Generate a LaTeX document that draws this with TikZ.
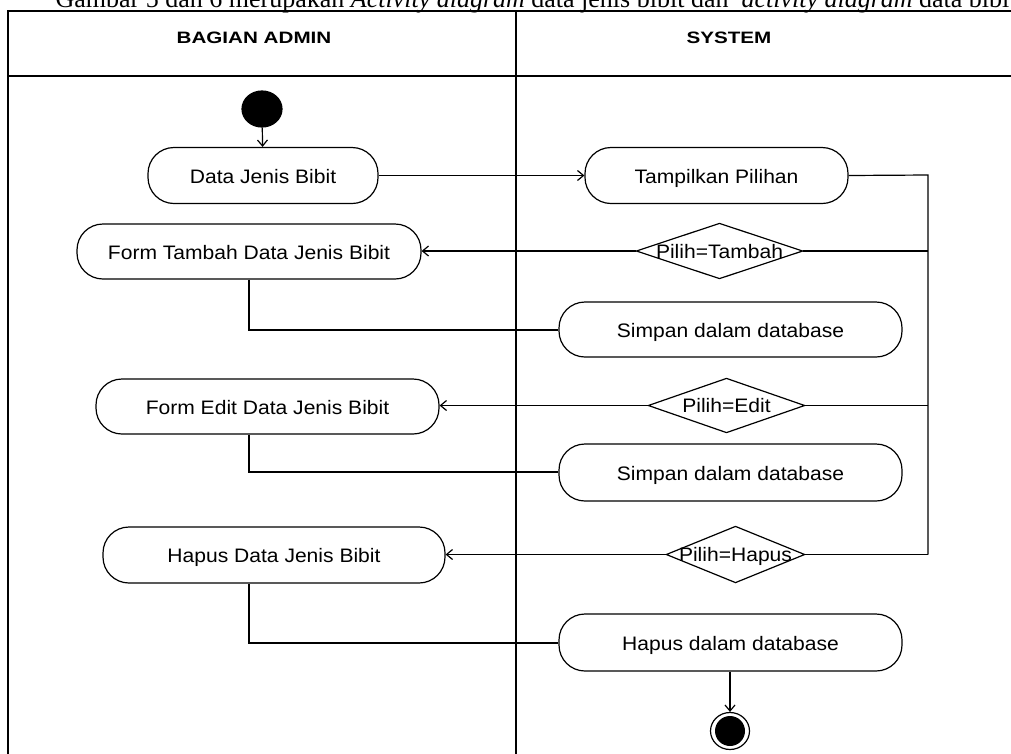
\documentclass[tikz,border=0pt]{standalone}
\usepackage{fontspec}
\setmainfont{Liberation Serif}
\newfontfamily\lab[FakeStretch=1.08]{Liberation Sans}
\newfontfamily\hdr[FakeStretch=1.25]{Liberation Sans}
\usetikzlibrary{arrows.meta,shapes.geometric}
\begin{document}
\begin{tikzpicture}[x=1pt,y=-1pt,line width=1.2pt,
  act/.style={draw, rectangle, rounded corners=26pt, minimum height=56pt, inner sep=0pt,
    text height=19pt, text depth=4pt, font=\lab\fontsize{19.5}{22}\selectfont},
  dbox/.style={rectangle, inner sep=0pt},
  dtext/.style={font=\lab\fontsize{19.5}{22}\selectfont, inner sep=0pt, text height=18pt, text depth=4pt},
  hd/.style={font=\hdr\bfseries\fontsize{16.5}{18}\selectfont, inner sep=0pt},
  arr/.style={-{Straight Barb[length=6pt,width=10pt]}},
  captext/.style={font=\fontsize{26}{28}\selectfont, inner sep=0pt, anchor=base west}]
\useasboundingbox (0,0) rectangle (1011,753);
\clip (0,0) rectangle (1011,753);
% caption
\node[captext] (caption) at (55,7) {Gambar 5 dan 6 merupakan \textit{Activity diagram} data jenis bibit dan\ \ \textit{activity diagram} data bibit};
% swimlane table
\coordinate (tl) at (8,11);
\coordinate (tr) at (1030,11);
\coordinate (hl) at (8,76);
\coordinate (hr) at (1030,76);
\coordinate (bl) at (8,770);
\coordinate (mt) at (516,11);
\coordinate (mb) at (516,770);
\draw (tr) -- (tl) -- (bl);
\draw (hl) -- (hr);
\draw (mt) -- (mb);
\node[hd] (h1) at (254,38) {BAGIAN ADMIN};
\node[hd] (h2) at (729,38) {SYSTEM};
% start
\node[draw, fill=black, ellipse, minimum width=40pt, minimum height=36pt, inner sep=0pt] (start) at (262,109) {};
% activities
\node[act, minimum width=230pt] (a1) at (263,175.5) {Data Jenis Bibit};
\node[act, minimum width=263pt] (a2) at (716.5,175.5) {Tampilkan Pilihan};
\node[act, minimum width=344pt, minimum height=55pt] (a3) at (249,251.5) {Form Tambah Data Jenis Bibit};
\node[act, minimum width=343pt, minimum height=55pt] (a4) at (730.5,329.5) {Simpan dalam database};
\node[act, minimum width=343pt, minimum height=55pt] (a5) at (267.5,406.5) {Form Edit Data Jenis Bibit};
\node[act, minimum width=343pt, minimum height=57pt] (a6) at (730.5,472.5) {Simpan dalam database};
\node[act, minimum width=342pt] (a7) at (274,555) {Hapus Data Jenis Bibit};
\node[act, minimum width=343pt, minimum height=57pt] (a8) at (730.5,642.5) {Hapus dalam database};
% decisions
\node[dbox, minimum width=165pt, minimum height=54pt] (d1) at (719.5,251) {};
\node[dbox, minimum width=155pt, minimum height=53pt] (d2) at (726.5,405.5) {};
\node[dbox, minimum width=137pt, minimum height=55pt] (d3) at (735.5,554.5) {};
\foreach \d in {d1,d2,d3}{
  \draw (\d.west) -- (\d.north) -- (\d.east) -- (\d.south) -- cycle;
}
\node[dtext] (t1) at (d1) {Pilih=Tambah};
\node[dtext] (t2) at (d2) {Pilih=Edit};
\node[dtext] (t3) at (d3) {Pilih=Hapus};
% end
\node[draw, ellipse, minimum width=39pt, minimum height=37pt, inner sep=0pt] (endo) at (730,731) {};
\node[fill=black, circle, minimum size=30pt, inner sep=0pt] (endi) at (730,731) {};
% connectors
\coordinate (rv) at (928,175);
\coordinate (rb) at (928,554.5);
\coordinate (c1) at (249,330);
\coordinate (c2) at (249,472);
\coordinate (c3) at (249,643);
\draw[arr] (start) -- (a1);
\draw[arr] (a1) -- (a2);
\draw (a2.east) -- (rv) -- (rb);
\draw (d1.east) -- (d1.east -| rv);
\draw (d2.east) -- (d2.east -| rv);
\draw (d3.east) -- (rb);
\draw[arr] (d1.west) -- (d1.west -| a3.east);
\draw[arr] (d2.west) -- (d2.west -| a5.east);
\draw[arr] (d3.west) -- (d3.west -| a7.east);
\draw (c1 |- a3.south) -- (c1) -- (c1 -| a4.west);
\draw (c2 |- a5.south) -- (c2) -- (c2 -| a6.west);
\draw (c3 |- a7.south) -- (c3) -- (c3 -| a8.west);
\draw[arr] (a8.south -| endo) -- (endo.north);
\end{tikzpicture}
\end{document}
